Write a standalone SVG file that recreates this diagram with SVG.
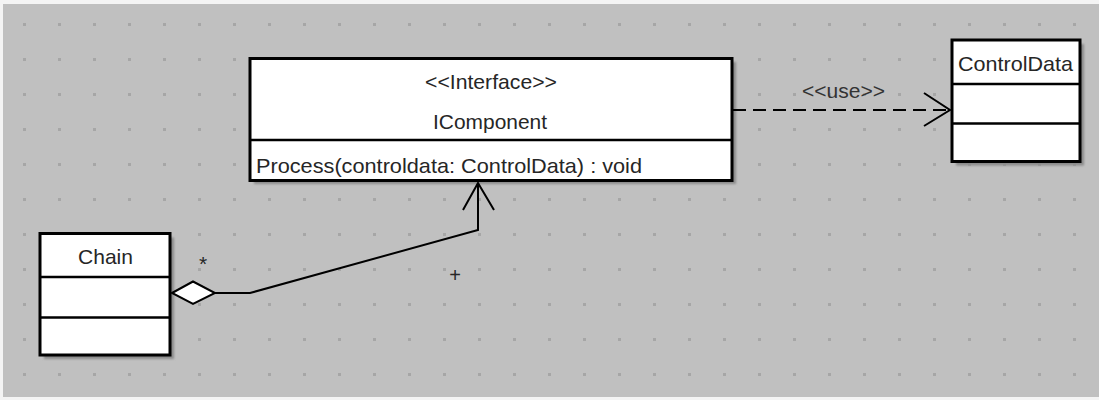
<svg xmlns="http://www.w3.org/2000/svg" width="1099" height="400" viewBox="0 0 1099 400">
  <style>
    .box { fill: #ffffff; stroke: #000000; stroke-width: 3; }
    .div { stroke: #000000; stroke-width: 2.5; }
    .shadow { fill: #8a8a8a; filter: url(#soft); }
    .lbl { font-family: "Liberation Sans", Arial, sans-serif; font-size: 21px; fill: #262626; }
    .mid { text-anchor: middle; }
    .edge { fill: none; stroke: #000000; stroke-width: 2; }
  </style>
  <defs>
    <pattern id="grid" x="0" y="0" width="35" height="35" patternUnits="userSpaceOnUse">
      <rect x="23" y="23" width="3" height="3" fill="#a6a6a6"/>
    </pattern>
    <filter id="soft" x="-10%" y="-10%" width="120%" height="120%">
      <feGaussianBlur stdDeviation="1"/>
    </filter>
  </defs>

  <!-- canvas -->
  <rect width="1099" height="400" fill="#f4f4f4"/>
  <rect x="3" y="4" width="1096" height="393" fill="#c0c0c0"/>
  <rect x="3" y="4" width="1096" height="393" fill="url(#grid)"/>

  <!-- interface node -->
  <g id="IComponent">
    <rect class="shadow" x="254" y="62" width="482" height="122"/>
    <rect class="box" x="250" y="58.5" width="482" height="122"/>
    <line class="div" x1="250" y1="140" x2="732" y2="140"/>
    <text class="lbl" x="425" y="89" textLength="132" lengthAdjust="spacingAndGlyphs">&lt;&lt;Interface&gt;&gt;</text>
    <text class="lbl" x="433" y="128.5" textLength="114" lengthAdjust="spacingAndGlyphs">IComponent</text>
    <text class="lbl" x="256" y="173" textLength="386" lengthAdjust="spacingAndGlyphs">Process(controldata: ControlData) : void</text>
  </g>

  <!-- ControlData class -->
  <g id="ControlData">
    <rect class="shadow" x="956" y="44" width="128" height="121.5"/>
    <rect class="box" x="952" y="40" width="128" height="121.5"/>
    <line class="div" x1="952" y1="84" x2="1080" y2="84"/>
    <line class="div" x1="952" y1="123.5" x2="1080" y2="123.5"/>
    <text class="lbl" x="958" y="71" textLength="115" lengthAdjust="spacingAndGlyphs">ControlData</text>
  </g>

  <!-- Chain class -->
  <g id="Chain">
    <rect class="shadow" x="44" y="237.5" width="130" height="121.5"/>
    <rect class="box" x="40" y="233.5" width="130" height="121.5"/>
    <line class="div" x1="40" y1="277" x2="170" y2="277"/>
    <line class="div" x1="40" y1="317.5" x2="170" y2="317.5"/>
    <text class="lbl" x="78" y="264" textLength="55" lengthAdjust="spacingAndGlyphs">Chain</text>
  </g>

  <!-- connectors -->
  <g id="connectors">
    <!-- aggregation Chain -> IComponent -->
    <path class="edge" d="M215,293 L250,293 L478,230 L478,183"/>
    <polyline class="edge" points="463,210 478,183 494,210"/>
    <polygon points="172,293 193,281.5 215,293 193,304" fill="#ffffff" stroke="#000000" stroke-width="2"/>
    <text class="lbl mid" x="203" y="271">*</text>
    <text class="lbl mid" x="455" y="281.5" style="font-size:20px">+</text>

    <!-- dependency IComponent -> ControlData -->
    <line class="edge" x1="733" y1="110" x2="949" y2="110" stroke-dasharray="13 7" stroke-width="2.5"/>
    <polyline class="edge" points="924,93 950,110 924,126"/>
    <text class="lbl" x="802" y="98" textLength="83" lengthAdjust="spacingAndGlyphs" style="fill:#333333">&lt;&lt;use&gt;&gt;</text>
  </g>
</svg>
